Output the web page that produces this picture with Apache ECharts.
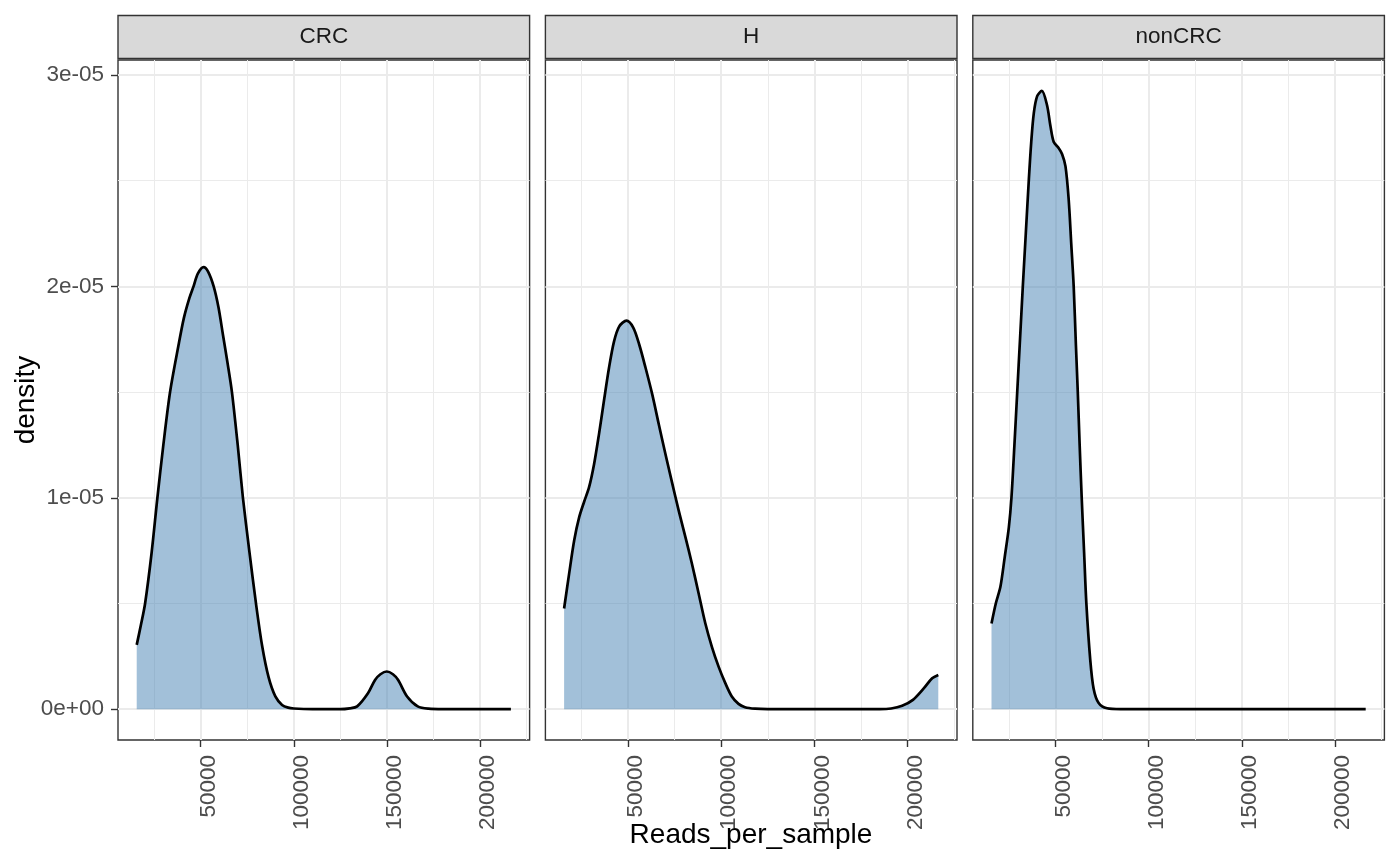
<!DOCTYPE html>
<html>
<head>
<meta charset="utf-8">
<script src="https://cdn.jsdelivr.net/npm/echarts@6/dist/echarts.min.js"></script>
<style>
html, body { margin: 0; padding: 0; background: #fff; }
#main { width: 1400px; height: 866px; }
</style>
</head>
<body>
<div id="main"></div>
<script>
// facet names
var panelNames = ["CRC", "H", "nonCRC"];

// CRC density
var crcReads = [15700, 18000, 20200, 23700, 26800, 30000, 33600, 38100, 41000, 43800, 46200, 48500,
    51600, 54000, 57000, 59600, 62000, 64400, 66800, 69900, 72700, 76100, 79700, 83000, 86500,
    90100, 93700, 97000, 100000, 110000, 125000, 130000, 134000, 139800, 143600, 146500, 149900,
    153200, 156000, 160800, 166500, 172300, 180000, 216500];
var crcDensity = [3.04e-6, 4.0e-6, 5.0e-6, 7.4e-6, 1.0e-5, 1.25e-5, 1.5e-5, 1.72e-5, 1.85e-5, 1.94e-5, 2.0e-5, 2.06e-5,
    2.091e-5, 2.07e-5, 2.0e-5, 1.9e-5, 1.77e-5, 1.64e-5, 1.5e-5, 1.25e-5, 1.0e-5, 7.5e-6, 5.0e-6, 3.0e-6, 1.5e-6,
    6.0e-7, 2.0e-7, 7e-8, 3e-8, 0, 0, 4e-8, 1.3e-7, 7.5e-7, 1.38e-6, 1.65e-6, 1.78e-6,
    1.65e-6, 1.38e-6, 6.0e-7, 1.3e-7, 2e-8, 0, 0];

// H density
var hReads = [15700, 18400, 21100, 23800, 26400, 29100, 31800, 34400, 37100, 39800, 42500, 45300,
    49200, 52800, 56000, 59400, 63000, 66500, 70100, 73600, 77200, 80800, 84300, 87900, 91500,
    95000, 98600, 102200, 105700, 109300, 112800, 118200, 125000, 185000, 191200, 197100,
    202900, 208800, 213200, 216500];
var hDensity = [4.76e-6, 6.41e-6, 7.98e-6, 9.08e-6, 9.8e-6, 1.05e-5, 1.16e-5, 1.3e-5, 1.46e-5, 1.615e-5, 1.74e-5, 1.811e-5,
    1.838e-5, 1.805e-5, 1.725e-5, 1.615e-5, 1.489e-5, 1.348e-5, 1.206e-5, 1.073e-5, 9.39e-6, 8.14e-6, 6.88e-6, 5.47e-6, 4.05e-6,
    2.95e-6, 2.01e-6, 1.23e-6, 6.0e-7, 2.5e-7, 9e-8, 2e-8, 0, 0, 3e-8, 1.6e-7,
    4.4e-7, 9.9e-7, 1.46e-6, 1.62e-6];

// nonCRC density
var nonReads = [15700, 18000, 20500, 22800, 25000, 26400, 28000, 29500, 31000, 32500, 34100, 35700,
    37000, 38400, 40200, 42700, 45500, 47300, 49100, 51800, 53600, 55400, 57100, 58500, 59800,
    61000, 62000, 63000, 64100, 65400, 66600, 68700, 70500, 73200, 77700, 85000, 216500];
var nonDensity = [4.05e-6, 5.0e-6, 5.8e-6, 7.2e-6, 8.6e-6, 1.0e-5, 1.25e-5, 1.5e-5, 1.75e-5, 2.0e-5, 2.25e-5, 2.5e-5,
    2.68e-5, 2.82e-5, 2.9e-5, 2.925e-5, 2.857e-5, 2.76e-5, 2.683e-5, 2.654e-5, 2.625e-5, 2.568e-5, 2.413e-5, 2.2e-5, 2.0e-5,
    1.72e-5, 1.5e-5, 1.25e-5, 1.0e-5, 7.4e-6, 5.0e-6, 2.32e-6, 9.7e-7, 2.9e-7, 4e-8, 0, 0];

// axis breaks
var xBreaks = [50000, 100000, 150000, 200000];
var xMinorBreaks = [25000, 75000, 125000, 175000, 225000];
var yBreaks = [0, 1e-5, 2e-5, 3e-5];
var yMinorBreaks = [0.5e-5, 1.5e-5, 2.5e-5];
var xLimits = [5660, 226540];
var yLimits = [-1.46e-6, 3.071e-5];

var panelData = [[crcReads, crcDensity], [hReads, hDensity], [nonReads, nonDensity]];

var panelLeft = [118, 545.4, 972.8];
var panelWidth = 411.6;
var panelTop = 60;
var panelHeight = 680;
var FONT = '"Liberation Sans", Arial, sans-serif';

var myChart = echarts.init(document.getElementById('main'), null, { renderer: 'canvas' });

var grids = [], xAxes = [], yAxes = [], series = [], graphics = [];

for (var i = 0; i < 3; i++) {
    grids.push({
        left: panelLeft[i], top: panelTop, width: panelWidth, height: panelHeight,
        show: true, borderColor: '#333333', borderWidth: 1.4, backgroundColor: 'transparent',
        containLabel: false
    });
    xAxes.push({
        type: 'value', gridIndex: i, min: xLimits[0], max: xLimits[1],
        axisLine: { show: false, onZero: false },
        splitLine: { show: false },
        axisTick: { show: true, length: 7, customValues: xBreaks, lineStyle: { color: '#333333', width: 1.4 } },
        axisLabel: {
            show: true, customValues: xBreaks, rotate: 90, margin: 15,
            verticalAlign: 'top', lineHeight: 16,
            color: '#4D4D4D', fontSize: 22.5, fontFamily: FONT,
            formatter: function (v) { return String(v); }
        }
    });
    if (i == 0) {
        yAxes.push({
            type: 'value', gridIndex: i, min: yLimits[0], max: yLimits[1],
            axisLine: { show: false, onZero: false },
            splitLine: { show: false },
            axisTick: { show: true, length: 7, customValues: yBreaks, lineStyle: { color: '#333333', width: 1.4 } },
            axisLabel: {
                show: true, customValues: yBreaks, margin: 14,
                color: '#4D4D4D', fontSize: 22.5, fontFamily: FONT,
                formatter: function (v) {
                    return v.toExponential(0).replace('e-', 'e-0').replace('e+', 'e+0');
                }
            }
        });
    } else {
        yAxes.push({
            type: 'value', gridIndex: i, min: yLimits[0], max: yLimits[1], show: false,
            axisLine: { show: false, onZero: false }, splitLine: { show: false },
            axisTick: { show: false }, axisLabel: { show: false }
        });
    }

    // grid lines behind the fill (precision kept high so tiny y values are not rounded to 0)
    var lines = [];
    xBreaks.forEach(function (v) { lines.push({ xAxis: v, lineStyle: { width: 2 } }); });
    xMinorBreaks.forEach(function (v) { lines.push({ xAxis: v, lineStyle: { width: 1 } }); });
    yBreaks.forEach(function (v) { lines.push({ yAxis: v, lineStyle: { width: 2 } }); });
    yMinorBreaks.forEach(function (v) { lines.push({ yAxis: v, lineStyle: { width: 1 } }); });
    series.push({
        type: 'line', xAxisIndex: i, yAxisIndex: i, data: [], silent: true, z: 1,
        markLine: {
            silent: true, z: 1, precision: 20, symbol: ['none', 'none'], label: { show: false },
            lineStyle: { color: '#EBEBEB', type: 'solid', opacity: 1 },
            emphasis: { disabled: true },
            data: lines
        }
    });

    var reads = panelData[i][0], dens = panelData[i][1];
    series.push({
        type: 'line', name: panelNames[i], xAxisIndex: i, yAxisIndex: i, z: 3,
        data: reads.map(function (r, k) { return [r, dens[k]]; }),
        symbol: 'none', showSymbol: false, smooth: 0.3,
        lineStyle: { color: '#000000', width: 2.7, join: 'round' },
        areaStyle: { color: '#4682B4', opacity: 0.5 }
    });

    // facet strip
    graphics.push({
        type: 'rect', z: 10,
        shape: { x: panelLeft[i], y: 15.5, width: panelWidth, height: 43 },
        style: { fill: '#D9D9D9', stroke: '#333333', lineWidth: 1.4 }
    });
    graphics.push({
        type: 'text', z: 11, x: panelLeft[i] + panelWidth / 2, y: 37,
        style: { text: panelNames[i], fill: '#1A1A1A', font: '22.5px ' + FONT, align: 'center', verticalAlign: 'middle' }
    });
}

// axis titles
graphics.push({
    type: 'text', z: 11, x: 751, y: 835,
    style: { text: 'Reads_per_sample', fill: '#000000', font: '28px ' + FONT, align: 'center', verticalAlign: 'middle' }
});
graphics.push({
    type: 'text', z: 11, x: 26, y: 400, rotation: Math.PI / 2,
    style: { text: 'density', fill: '#000000', font: '28px ' + FONT, align: 'center', verticalAlign: 'middle' }
});

myChart.setOption({
    animation: false,
    backgroundColor: '#ffffff',
    grid: grids,
    xAxis: xAxes,
    yAxis: yAxes,
    series: series,
    graphic: graphics
});
</script>
</body>
</html>
